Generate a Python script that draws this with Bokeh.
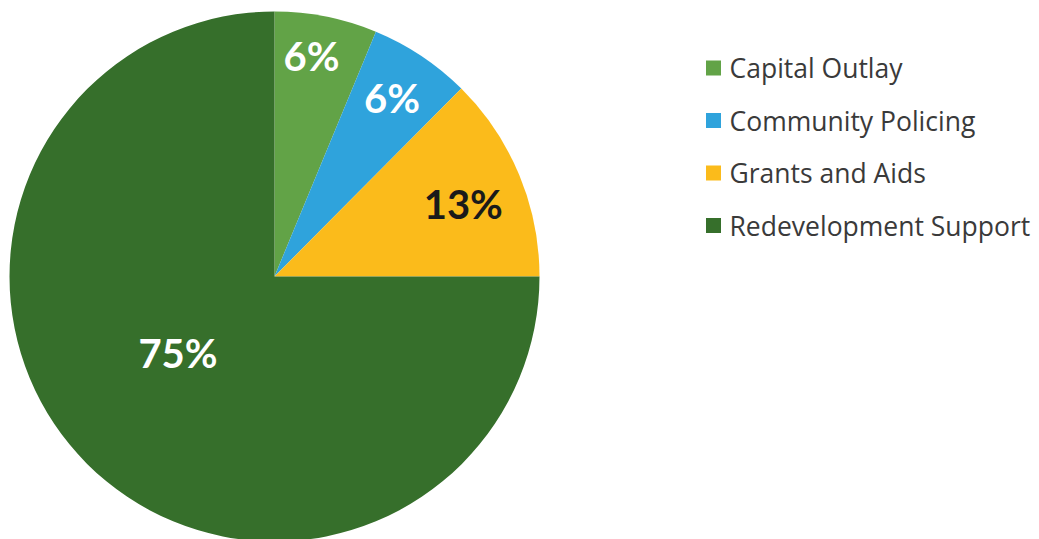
import math
from bokeh.plotting import figure
from bokeh.models import Range1d, ColumnDataSource
from bokeh.core.properties import value
from bokeh.embed import file_html
from bokeh.resources import INLINE

# ---- data ----
categories = ["Capital Outlay", "Community Policing", "Grants and Aids", "Redevelopment Support"]
shares = [6.25, 6.2, 12.55, 75.0]
pct_labels = ["6%", "6%", "13%", "75%"]
colors = ["#62a347", "#2fa3dc", "#fbbb1b", "#366f2b"]
label_colors = ["white", "white", "#1a1a1a", "white"]

# ---- layout ----
W, H = 1039, 539
cx, cy, R = 274, -276, 265
label_r = [0.835, 0.80, 0.76, 0.47]
label_da = [-1.6, 0.0, 2.2, 5.8]  # clockwise angular nudge (deg)

total = sum(shares)
starts, ends, lx, ly = [], [], [], []
cum = 0.0
for i, v in enumerate(shares):
    a0 = math.pi / 2 - 2 * math.pi * cum / total
    a1 = math.pi / 2 - 2 * math.pi * (cum + v) / total
    starts.append(a0)
    ends.append(a1)
    mid = (a0 + a1) / 2 - math.radians(label_da[i])
    lx.append(cx + label_r[i] * R * math.cos(mid))
    ly.append(cy + label_r[i] * R * math.sin(mid) + 2)
    cum += v

src = ColumnDataSource(dict(cat=categories, start=starts, end=ends, color=colors,
                            lx=lx, ly=ly, lab=pct_labels, lcol=label_colors))

p = figure(width=W, height=H, x_range=Range1d(0, W), y_range=Range1d(-H, 0),
           output_backend="svg", toolbar_location=None, min_border=0)
p.axis.visible = False
p.grid.visible = False
p.outline_line_color = None
p.background_fill_color = "white"
p.border_fill_color = "white"

p.wedge(x=cx, y=cy, radius=R, start_angle="start", end_angle="end", direction="clock",
        fill_color="color", line_color=None, source=src)

p.text(x="lx", y="ly", text="lab", text_color="lcol", text_align="center",
       text_baseline="middle", text_font=value("Lato"), text_font_style="bold",
       text_font_size="40px", source=src)

# legend drawn manually
leg_x0, leg_y0, leg_dy = 713, -67.5, -52.5
leg_src = ColumnDataSource(dict(
    x=[leg_x0] * len(categories),
    tx=[leg_x0 + 16] * len(categories),
    y=[leg_y0 + i * leg_dy for i in range(len(categories))],
    cat=categories, color=colors))
p.scatter(x="x", y="y", marker="square", size=15, fill_color="color", line_color=None, source=leg_src)
p.text(x="tx", y="y", text="cat", text_color="#3a3a3a", text_align="left",
       text_baseline="middle", text_font=value("Open Sans"), text_font_size="26.5px", source=leg_src)

open("out.html", "w").write(file_html(p, INLINE))
